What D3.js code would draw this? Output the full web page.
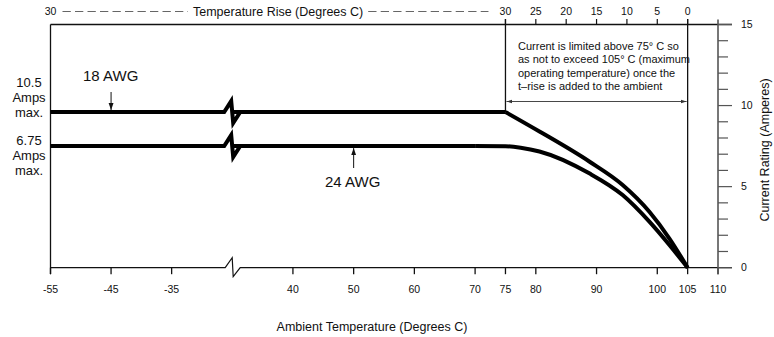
<!DOCTYPE html>
<html><head><meta charset="utf-8">
<script src="https://cdn.jsdelivr.net/npm/d3@7"></script>
<style>
body{margin:0;background:#fff}
svg{display:block}
text{font-family:"Liberation Sans",Arial,Helvetica,sans-serif;fill:#111}
</style>
</head><body>
<svg id="c" width="774" height="337"></svg>
<script>
// ---------- data ----------
const ambientTicks = [-55, -45, -35, 40, 50, 60, 70, 75, 80, 90, 100, 105, 110];
const riseTicks = [30, 25, 20, 15, 10, 5, 0];
const riseLeftLabel = "30";
const currentMajorTicks = [0, 5, 10, 15];
const currentMinorTicks = [1, 2, 3, 4, 6, 7, 8, 9, 11, 12, 13, 14];
const axisBreak = [-25, 30];          // ambient values joined at the axis break
const maxOperating = 105;             // rise = maxOperating - ambient
const deratingStart = 75;
// 18 AWG: flat part and derating part
const awg18Flat = [[-55, 9.6], [-25, 9.6], [30, 9.6], [75, 9.6]];
const awg18Derate = [[75, 9.6], [80.6, 8.4], [88.8, 6.55], [94.3, 5.1], [98.7, 3.45], [102, 1.8], [105, 0]];
// 24 AWG: flat part and derating part (rounded knee)
const awg24Flat = [[-55, 7.5], [-25, 7.5], [30, 7.5], [70, 7.5]];
const awg24Derate = [[70, 7.5], [75, 7.49], [77.5, 7.4], [80.6, 7.17], [88.8, 5.82], [94.3, 4.48], [98.7, 2.84], [102, 1.4], [105, 0]];
const leftLabels18 = ["10.5", "Amps", "max."];
const leftLabels24 = ["6.75", "Amps", "max."];
const noteLines = ["Current is limited above 75\u00b0 C so", "as not to exceed 105\u00b0 C (maximum", "operating temperature) once the", "t\u2013rise is added to the ambient"];

// ---------- layout ----------
const svg = d3.select("#c");
const x = d3.scaleLinear().domain([-55, axisBreak[0], axisBreak[1], 110]).range([50.5, 232.2, 232.2, 718]);
const y = d3.scaleLinear().domain([0, 15]).range([267.7, 24.5]);
const xb = x(axisBreak[0]);

svg.append("defs").html(`
<marker id="ah" viewBox="0 0 10 10" refX="10" refY="5" markerWidth="7" markerHeight="7" markerUnits="userSpaceOnUse" orient="auto-start-reverse"><path d="M0,1.5L10,5L0,8.5z" fill="#111"/></marker>
<marker id="ah2" viewBox="0 0 10 10" refX="10" refY="5" markerWidth="6" markerHeight="6" markerUnits="userSpaceOnUse" orient="auto-start-reverse"><path d="M0,2L10,5L0,8z" fill="#333"/></marker>`);

// path for a flat series with a break glyph
function brokenPath(flat, dxL, zig) {
  const p = d3.path();
  const y0 = y(flat[0][1]);
  p.moveTo(x(flat[0][0]), y0);
  p.lineTo(xb - zig[0], y0);
  p.lineTo(xb - zig[1], y0 - zig[2]);
  p.lineTo(xb + zig[3], y0 + zig[4]);
  p.lineTo(xb + zig[5], y0);
  for (let i = 2; i < flat.length; i++) p.lineTo(x(flat[i][0]), y(flat[i][1]));
  return p.toString();
}

// ---------- axes ----------
// left axis
svg.append("line").attr("x1", x(-55)).attr("x2", x(-55)).attr("y1", y(15)).attr("y2", y(0) + 6.5)
  .attr("stroke", "#111").attr("stroke-width", 1.3);
// top line
svg.append("line").attr("x1", x(-55)).attr("x2", x(110) + 14).attr("y1", y(15)).attr("y2", y(15))
  .attr("stroke", "#111").attr("stroke-width", 1.3);
// bottom axis with break
{
  const p = d3.path(); const y0 = y(0);
  p.moveTo(x(-55), y0); p.lineTo(xb - 7, y0); p.lineTo(xb, y0 - 10); p.lineTo(xb + 1, y0 + 9); p.lineTo(xb + 8, y0); p.lineTo(x(110) + 14, y0);
  svg.append("path").attr("d", p.toString()).attr("fill", "none").attr("stroke", "#111").attr("stroke-width", 1.2);
}
// bottom ticks
const bt = svg.append("g");
ambientTicks.forEach(t => {
  bt.append("line").attr("x1", x(t)).attr("x2", x(t)).attr("y1", y(0)).attr("y2", y(0) + 6.5).attr("stroke", "#111").attr("stroke-width", 1.3);
  bt.append("text").attr("x", x(t)).attr("y", 293).attr("text-anchor", "middle").attr("font-size", 10.5).text(t);
});
svg.append("text").attr("x", 372).attr("y", 331).attr("text-anchor", "middle").attr("font-size", 12.5).text("Ambient Temperature (Degrees C)");

// right axis
const ra = svg.append("g");
ra.append("line").attr("x1", x(110)).attr("x2", x(110)).attr("y1", y(15) - 5).attr("y2", y(0) + 6.5).attr("stroke", "#555").attr("stroke-width", 1.6);
currentMinorTicks.forEach(v => ra.append("line").attr("x1", x(110)).attr("x2", x(110) + 10).attr("y1", y(v)).attr("y2", y(v)).attr("stroke", "#555").attr("stroke-width", 1.2));
currentMajorTicks.forEach(v => {
  ra.append("line").attr("x1", x(110)).attr("x2", x(110) + 14).attr("y1", y(v)).attr("y2", y(v)).attr("stroke", "#555").attr("stroke-width", 1.2);
  ra.append("text").attr("x", 741).attr("y", y(v)).attr("dy", "0.35em").attr("font-size", 10.5).text(v);
});
svg.append("text").attr("transform", `translate(769,150) rotate(-90)`).attr("text-anchor", "middle").attr("font-size", 12.5).text("Current Rating (Amperes)");

// top (temperature rise) axis
const ta = svg.append("g");
riseTicks.forEach(r => {
  const xx = x(maxOperating - r);
  ta.append("line").attr("x1", xx).attr("x2", xx).attr("y1", y(15) - 5.5).attr("y2", y(15)).attr("stroke", "#111").attr("stroke-width", 1.2);
  ta.append("text").attr("x", xx).attr("y", 15).attr("text-anchor", "middle").attr("font-size", 10.5).text(r);
});
ta.append("text").attr("x", x(-55)).attr("y", 15).attr("text-anchor", "middle").attr("font-size", 10.5).text(riseLeftLabel);
const title = ta.append("text").attr("x", 193).attr("y", 16).attr("font-size", 12.5).text("Temperature Rise (Degrees C)");
const tw = title.node().getComputedTextLength();
ta.append("line").attr("x1", x(-55) + 12).attr("x2", 188).attr("y1", 11.5).attr("y2", 11.5).attr("stroke", "#666").attr("stroke-width", 1.1).attr("stroke-dasharray", "8.3,4.2");
ta.append("line").attr("x1", 193 + tw + 5).attr("x2", x(deratingStart) - 17).attr("y1", 11.5).attr("y2", 11.5).attr("stroke", "#666").attr("stroke-width", 1.1).attr("stroke-dasharray", "8.3,4.2");

// vertical reference lines at 75 and 105
svg.append("line").attr("x1", x(deratingStart)).attr("x2", x(deratingStart)).attr("y1", y(15) - 5.5).attr("y2", y(awg18Flat[3][1])).attr("stroke", "#111").attr("stroke-width", 1.3);
svg.append("line").attr("x1", x(maxOperating)).attr("x2", x(maxOperating)).attr("y1", y(15) - 5.5).attr("y2", y(0)).attr("stroke", "#111").attr("stroke-width", 1.3);

// note + double arrow
const note = svg.append("text").attr("font-size", 11);
noteLines.forEach((s, i) => note.append("tspan").attr("x", 518).attr("y", 50 + i * 13.4).text(s));
svg.append("line").attr("x1", x(deratingStart) + 1).attr("x2", x(maxOperating) - 1).attr("y1", 101.5).attr("y2", 101.5)
  .attr("stroke", "#333").attr("stroke-width", 0.9).attr("marker-start", "url(#ah2)").attr("marker-end", "url(#ah2)");

// ---------- series ----------
const curve = d3.line().x(d => x(d[0])).y(d => y(d[1])).curve(d3.curveMonotoneX);
const zig = [8, 1, 11, 1, 11, 8];
[[awg18Flat, awg18Derate], [awg24Flat, awg24Derate]].forEach(([f, dr]) => {
  svg.append("path").attr("d", brokenPath(f, 0, zig)).attr("fill", "none").attr("stroke", "#000").attr("stroke-width", 4).attr("stroke-linejoin", "miter");
  svg.append("path").attr("d", curve(dr)).attr("fill", "none").attr("stroke", "#000").attr("stroke-width", 4).attr("stroke-linejoin", "round");
});

// ---------- labels ----------
svg.append("text").attr("x", 83).attr("y", 81).attr("font-size", 15).text("18 AWG");
svg.append("line").attr("x1", x(-45)).attr("x2", x(-45)).attr("y1", 92).attr("y2", y(9.6) - 2).attr("stroke", "#111").attr("stroke-width", 1).attr("marker-end", "url(#ah)");
svg.append("text").attr("x", 325).attr("y", 187).attr("font-size", 15).text("24 AWG");
svg.append("line").attr("x1", x(50)).attr("x2", x(50)).attr("y1", 168).attr("y2", y(7.5) + 2).attr("stroke", "#111").attr("stroke-width", 1).attr("marker-end", "url(#ah)");

leftLabels18.forEach((s, i) => svg.append("text").attr("x", 29).attr("y", 87 + i * 15).attr("text-anchor", "middle").attr("font-size", 13).text(s));
leftLabels24.forEach((s, i) => svg.append("text").attr("x", 29).attr("y", 145 + i * 15).attr("text-anchor", "middle").attr("font-size", 13).text(s));
</script>
</body></html>
